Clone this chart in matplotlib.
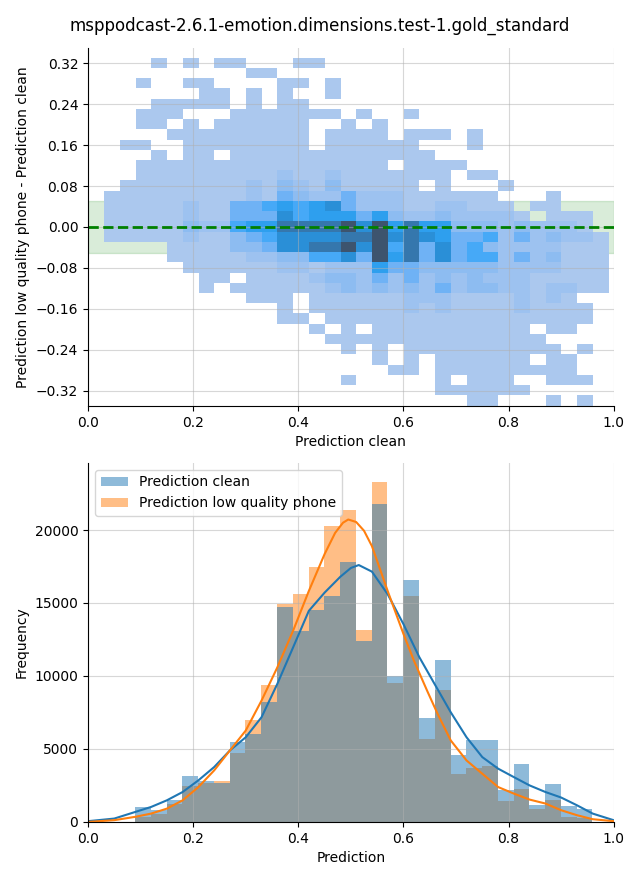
import numpy as np
import matplotlib
matplotlib.use("Agg")
import matplotlib.pyplot as plt
import seaborn as sns

title = "msppodcast-2.6.1-emotion.dimensions.test-1.gold_standard"

# ---- top panel: 2d histogram (clean vs. phone - clean)
x_bin_start, x_bin_width, n_xbins = 0.0304, 0.030, 32
y_bin_start, y_bin_width, n_ybins = -0.349, 0.020, 34

# shade level -> approximate cell count
level_counts = {"1": 10, "2": 120, "3": 230, "4": 410, "5": 590,
                "6": 750, "7": 1010, "8": 1410, "9": 2000}

# one string per row, top row first, one char per x bin ('.' = empty),
# grouped in blocks of 8 bins
cell_rows = [
    "...1.1.1 1...11.. ........ ........",
    "........ .11..... ........ ........",
    "..1..11. ...11.1. ........ ........",
    "......11 .1.1..1. ........ ........",
    "...11111 .1.11... ........ ........",
    "..111... 1111111. 1..1.... ........",
    "..11.1.1 11111..1 .1...... ........",
    "....1111 11111.11 11.111.1 ........",
    ".11..111 11111.11 1111...1 ........",
    "...1.11. 11111111 11111... ........",
    "..111111 11111111 11.1111. ........",
    "..111111 11121121 111111.1 1.......",
    ".1111111 12132131 1111.1.. .1......",
    "11111111 12143224 22211111 1...1...",
    "11111211 44565674 22211221 11.11...",
    "11111211 44475666 46322322 221.111.",
    "11111322 56688889 79686633 3232221.",
    "11111211 34577778 89787644 52423221",
    "....1111 33477889 79584745 32222111",
    "....1111 12233557 49684745 52423111",
    ".....111 11122122 26443333 32222111",
    "......11 .1111233 24242323 22211111",
    "......1. 11111123 23232423 32212211",
    "........ .111.111 11122211 112121..",
    "........ ...1.111 11121211 1121111.",
    "........ ...11.11 11111111 1111111.",
    "........ .....1.1 .1111111 111.11..",
    "........ ......11 11111111 1111....",
    "........ .......1 .1.11111 11111.1.",
    "........ ........ .1.1.111 111.11..",
    "........ ........ ..11.111 111111..",
    "........ .......1 .....1.1 11..111.",
    "........ ........ .....111 111.....",
    "........ ........ .......1 1...1.1.",
]

# ---- bottom panel: frequency histograms and density curves
hist_start, hist_width = 0.0895, 0.030
clean_counts = [1000, 800, 1530, 3120, 2800, 2700, 5510, 5990, 8240, 14730,
                13090, 14550, 15480, 17830, 12410, 21790, 10020, 16580, 7130,
                11110, 4560, 5580, 5580, 2170, 3990, 1140, 2575, 1070, 900]
phone_counts = [350, 530, 1210, 2440, 2700, 2780, 4710, 7010, 9400, 14920,
                15640, 17460, 20260, 21360, 13140, 23270, 9500, 15480, 5650,
                9060, 3260, 3690, 3800, 1420, 2230, 870, 1480, 340, 300]

kde_x_clean = [0.0, 0.05, 0.09, 0.12, 0.15, 0.18, 0.21, 0.24, 0.27, 0.30, 0.33,
               0.36, 0.39, 0.42, 0.45, 0.48, 0.50, 0.515, 0.54, 0.57, 0.60,
               0.63, 0.66, 0.69, 0.72, 0.75, 0.78, 0.81, 0.84, 0.87, 0.90,
               0.93, 0.96, 1.0]
kde_clean = [50, 230, 685, 1025, 1480, 2050, 2850, 3760, 4900, 5800, 7170,
             9450, 11950, 14460, 15710, 16800, 17400, 17600, 17150, 15600,
             13550, 11300, 9400, 7510, 5800, 4440, 3650, 3070, 2500, 2050,
             1670, 1140, 570, 115]
kde_x_phone = [0.0, 0.05, 0.09, 0.12, 0.15, 0.18, 0.21, 0.24, 0.27, 0.30, 0.33,
               0.36, 0.39, 0.42, 0.45, 0.47, 0.485, 0.495, 0.51, 0.525, 0.54,
               0.57, 0.60, 0.62, 0.645, 0.665, 0.69, 0.72, 0.75, 0.78, 0.81,
               0.84, 0.87, 0.90, 0.93, 0.96, 1.0]
kde_phone = [0, 120, 350, 570, 910, 1480, 2390, 3530, 4900, 6260, 8310, 10580,
             13090, 15820, 18350, 19800, 20500, 20720, 20550, 19950, 18900,
             15820, 12880, 11040, 8990, 7400, 5580, 4210, 3300, 2390, 1940,
             1530, 1260, 800, 460, 185, 50]

# ---- build cell data
rows = [r.replace(" ", "") for r in cell_rows]
grid = np.array([[level_counts.get(ch, 0) for ch in r] for r in rows[::-1]])
x_edges = x_bin_start + x_bin_width * np.arange(n_xbins + 1)
y_edges = y_bin_start + y_bin_width * np.arange(n_ybins + 1)
xc = (x_edges[:-1] + x_edges[1:]) / 2
yc = (y_edges[:-1] + y_edges[1:]) / 2
X, Y = np.meshgrid(xc, yc)
mask = grid > 0

fig = plt.figure(figsize=(6.4, 8.8), dpi=100)
ax1 = fig.add_axes([0.1375, 0.5386, 0.8215, 0.4069])
ax2 = fig.add_axes([0.1375, 0.066, 0.8215, 0.408])
fig.suptitle(title, y=1 - 26 / 880, va="center", fontsize=12)

ax1.axhspan(-0.05, 0.05, color="green", alpha=0.15)
sns.histplot(x=X[mask], y=Y[mask], weights=grid[mask],
             bins=[x_edges, y_edges], ax=ax1)
ax1.axhline(0, color="green", linestyle="--", linewidth=2)
ax1.set_xlim(0, 1)
ax1.set_ylim(-0.35, 0.35)
ax1.set_yticks(np.round(np.arange(-0.32, 0.33, 0.08), 2))
ax1.set_xlabel("Prediction clean")
ax1.set_ylabel("Prediction low quality phone - Prediction clean")
ax1.grid(alpha=0.5)
ax1.spines[["top", "right"]].set_visible(False)

edges = hist_start + hist_width * np.arange(len(clean_counts) + 1)
centers = (edges[:-1] + edges[1:]) / 2
_, _, p_phone = ax2.hist(centers, bins=edges, weights=phone_counts,
                         color="C1", alpha=0.5)
_, _, p_clean = ax2.hist(centers, bins=edges, weights=clean_counts,
                         color="C0", alpha=0.5)
ax2.plot(kde_x_clean, kde_clean, color="C0", linewidth=1.5)
ax2.plot(kde_x_phone, kde_phone, color="C1", linewidth=1.5)
ax2.set_xlim(0, 1)
ax2.set_ylim(0, 24600)
ax2.set_xlabel("Prediction")
ax2.set_ylabel("Frequency")
ax2.grid(alpha=0.5)
ax2.spines[["top", "right"]].set_visible(False)
ax2.legend([p_clean[0], p_phone[0]],
           ["Prediction clean", "Prediction low quality phone"],
           loc="upper left")

fig.savefig("out.png", dpi=100)
